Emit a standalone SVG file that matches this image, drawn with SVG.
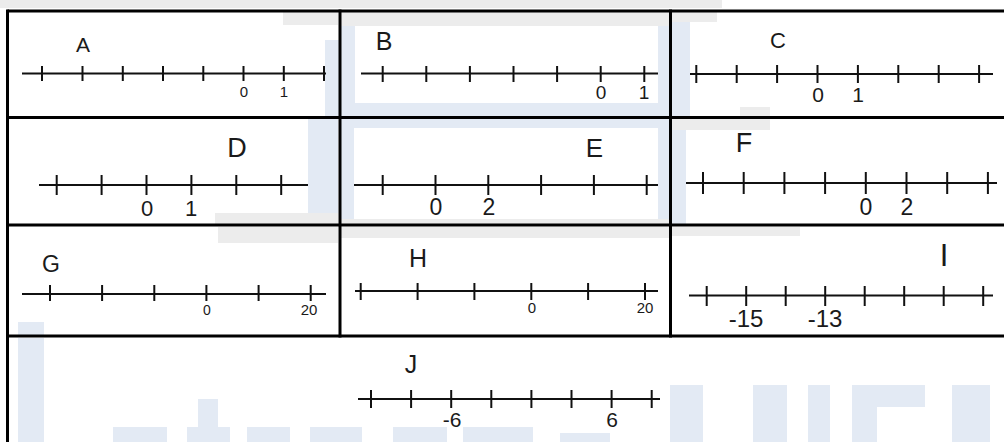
<svg xmlns="http://www.w3.org/2000/svg" width="1004" height="442" viewBox="0 0 1004 442">
<style>
.nl{stroke:#111;stroke-width:2;fill:none}
.grid{stroke:#000;stroke-width:3;fill:none}
.t{font-family:"Liberation Sans",Arial,sans-serif;fill:#1a1a1a;text-anchor:middle}
.wb{fill:#e3eaf4}
.wg{fill:#ececec}
</style>
<rect width="1004" height="442" fill="#fff"/>
<g id="watermark">
<rect class="wg" x="0" y="0" width="722" height="8"/>
<rect class="wg" x="283" y="12" width="55" height="13"/>
<rect class="wb" x="325" y="40" width="14" height="77"/>
<rect class="wg" x="341" y="12" width="328" height="14"/>
<rect class="wb" x="341" y="26" width="328" height="91"/>
<rect fill="#fff" x="355" y="26" width="303" height="77"/>
<rect class="wg" x="672" y="12" width="45" height="10"/>
<rect class="wb" x="672" y="22" width="18" height="95"/>
<rect class="wg" x="740" y="107" width="30" height="10"/>
<rect class="wb" x="308" y="119" width="30" height="105"/>
<rect class="wg" x="215" y="213" width="123" height="11"/>
<rect class="wb" x="341" y="119" width="328" height="106"/>
<rect fill="#fff" x="354" y="128" width="304" height="91"/>
<rect class="wg" x="341" y="219" width="328" height="6"/>
<rect class="wb" x="672" y="119" width="14" height="106"/>
<rect class="wg" x="672" y="119" width="98" height="11"/>
<rect class="wg" x="218" y="227" width="120" height="16"/>
<rect class="wb" x="18" y="322" width="26" height="13"/>
<rect class="wg" x="341" y="227" width="328" height="11"/>
<rect class="wg" x="672" y="227" width="128" height="9"/>
<rect class="wb" x="18" y="338" width="26" height="104"/>
<rect class="wb" x="198" y="399" width="20" height="43"/>
<rect class="wb" x="113" y="427" width="54" height="15"/>
<rect class="wb" x="187" y="427" width="43" height="15"/>
<rect class="wb" x="247" y="427" width="43" height="15"/>
<rect class="wb" x="310" y="427" width="52" height="15"/>
<rect class="wb" x="393" y="427" width="54" height="15"/>
<rect class="wb" x="463" y="427" width="70" height="15"/>
<rect class="wb" x="560" y="433" width="50" height="9"/>
<rect class="wb" x="670" y="385" width="33" height="57"/>
<rect class="wb" x="753" y="385" width="34" height="57"/>
<rect class="wb" x="808" y="385" width="22" height="57"/>
<rect class="wb" x="852" y="385" width="25" height="57"/>
<rect class="wb" x="852" y="385" width="73" height="22"/>
<rect class="wb" x="952" y="385" width="38" height="57"/>
</g>
<g id="grid">
<line class="grid" x1="7.5" y1="11" x2="1004" y2="11"/>
<line class="grid" x1="7.5" y1="117.5" x2="1004" y2="117.5"/>
<line class="grid" x1="7.5" y1="225" x2="1004" y2="225"/>
<line class="grid" x1="7.5" y1="336" x2="1004" y2="336"/>
<line class="grid" x1="7.5" y1="9.5" x2="7.5" y2="442"/>
<line class="grid" x1="340" y1="9.5" x2="340" y2="337.5"/>
<line class="grid" x1="670.5" y1="9.5" x2="670.5" y2="337.5"/>
</g>
<g id="cell-A">
<path class="nl" d="M22 73.5H326M42 66V81M82.5 66V81M122.8 66V81M163 66V81M203.3 66V81M243.5 66V81M283.8 66V81M324 66V81"/>
<text class="t" x="83" y="52" font-size="21">A</text>
<text class="t" x="244" y="97" font-size="15">0</text>
<text class="t" x="284" y="97" font-size="15">1</text>
</g>
<g id="cell-B">
<path class="nl" d="M361 73.5H658M382.7 66V82M426.3 66V82M469.9 66V82M513.5 66V82M557.1 66V82M600.7 66V82M644.3 66V82"/>
<text class="t" x="384" y="50" font-size="25">B</text>
<text class="t" x="601" y="99" font-size="19">0</text>
<text class="t" x="644" y="99" font-size="19">1</text>
</g>
<g id="cell-C">
<path class="nl" d="M690 74H993M696.3 65V83M736.7 65V83M777.1 65V83M817.5 65V83M857.9 65V83M898.3 65V83M938.7 65V83M979.1 65V83"/>
<text class="t" x="778" y="48" font-size="22">C</text>
<text class="t" x="818" y="102" font-size="21">0</text>
<text class="t" x="858" y="102" font-size="21">1</text>
</g>
<g id="cell-D">
<path class="nl" d="M39 185H308M56.7 175V195M101.6 175V195M146.5 175V195M191.4 175V195M236.3 175V195M281.2 175V195"/>
<text class="t" x="237" y="157" font-size="27">D</text>
<text class="t" x="147" y="216" font-size="22">0</text>
<text class="t" x="191" y="216" font-size="22">1</text>
</g>
<g id="cell-E">
<path class="nl" d="M354 185H658M382.7 175V195M435.5 175V195M488.3 175V195M541.1 175V195M593.9 175V195M646.7 175V195"/>
<text class="t" x="594.5" y="157" font-size="26">E</text>
<text class="t" x="436" y="215" font-size="23">0</text>
<text class="t" x="489" y="215" font-size="23">2</text>
</g>
<g id="cell-F">
<path class="nl" d="M686 183H997M703 172V194M743.7 172V194M784.4 172V194M825.1 172V194M865.8 172V194M906.5 172V194M947.2 172V194M987.9 172V194"/>
<text class="t" x="744" y="152" font-size="27">F</text>
<text class="t" x="866" y="215" font-size="23">0</text>
<text class="t" x="907" y="215" font-size="23">2</text>
</g>
<g id="cell-G">
<path class="nl" d="M22 294H326M50 285V301M102.1 285V301M154.3 285V301M206.4 285V301M258.6 285V301M310.7 285V301"/>
<text class="t" x="51" y="272" font-size="23">G</text>
<text class="t" x="207" y="315" font-size="14">0</text>
<text class="t" x="309" y="315" font-size="15">20</text>
</g>
<g id="cell-H">
<path class="nl" d="M355 291H658M360.7 283V300M417.6 283V300M474.4 283V300M531.3 283V300M588.1 283V300M645 283V300"/>
<text class="t" x="418" y="267" font-size="25">H</text>
<text class="t" x="532" y="313" font-size="15">0</text>
<text class="t" x="645" y="313" font-size="15">20</text>
</g>
<g id="cell-I">
<path class="nl" d="M689 295.5H993M706.7 286V306M746.2 286V306M785.7 286V306M825.2 286V306M864.7 286V306M904.2 286V306M943.7 286V306M983.2 286V306"/>
<text class="t" x="944" y="266" font-size="31">I</text>
<text class="t" x="746" y="327" font-size="24">-15</text>
<text class="t" x="825" y="327" font-size="24">-13</text>
</g>
<g id="cell-J">
<path class="nl" d="M358 399H660M371 390V408M411.1 390V408M451.2 390V408M491.3 390V408M531.4 390V408M571.5 390V408M611.6 390V408M651.7 390V408"/>
<text class="t" x="411" y="373" font-size="25">J</text>
<text class="t" x="452" y="427" font-size="21">-6</text>
<text class="t" x="612" y="427" font-size="21">6</text>
</g>
</svg>
